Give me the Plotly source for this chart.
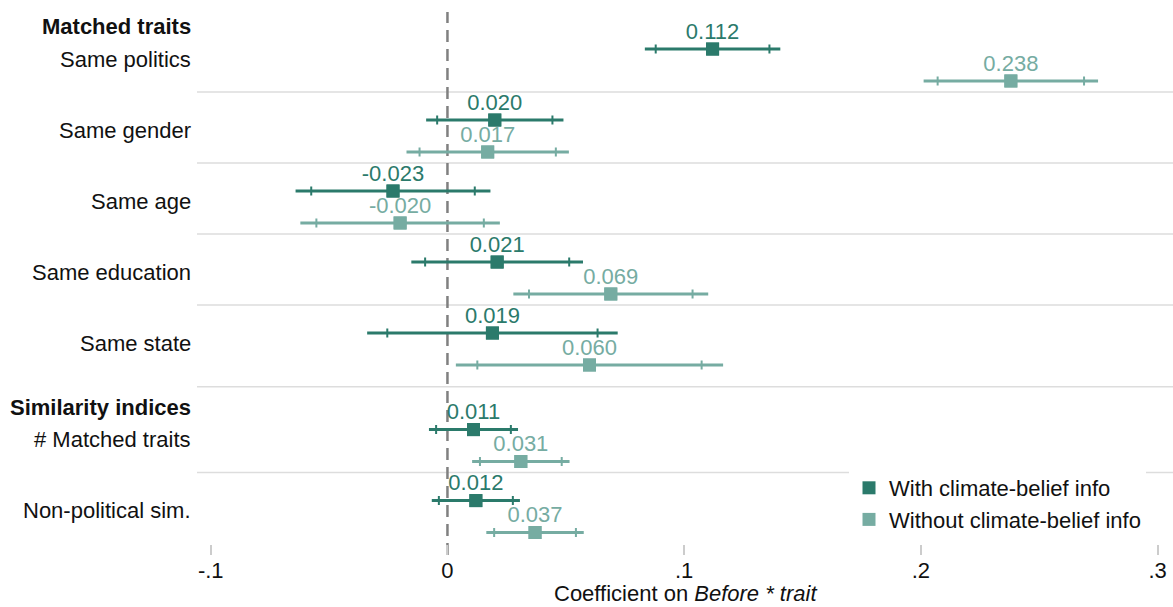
import plotly.graph_objects as go

# ---- data ----
rows = ["Same politics", "Same gender", "Same age", "Same education", "Same state",
        "# Matched traits", "Non-political sim."]
groups = ["Matched traits"] * 5 + ["Similarity indices"] * 2
with_coef = [0.112, 0.020, -0.023, 0.021, 0.019, 0.011, 0.012]
with_se = [0.0146, 0.0148, 0.0210, 0.0185, 0.0270, 0.0096, 0.0095]
without_coef = [0.238, 0.017, -0.020, 0.069, 0.060, 0.031, 0.037]
without_se = [0.0188, 0.0175, 0.0215, 0.0210, 0.0288, 0.0105, 0.0105]
tick_vals = [-0.1, 0, 0.1, 0.2, 0.3]
tick_text = ["-.1", "0", ".1", ".2", ".3"]
series_names = ["With climate-belief info", "Without climate-belief info"]

# ---- styling / layout ----
C_WITH = "#2b7a6b"
C_WITHOUT = "#76aca2"
FONT = "Liberation Sans, Arial, Helvetica, sans-serif"
FS = 22
Z95, Z90 = 1.96, 1.645
HEADER_GAP = 0.36
OFFSET = 0.225

pos = []
p = 0.0
for i, g in enumerate(groups):
    if i > 0:
        p += 1 + (HEADER_GAP if g != groups[i - 1] else 0)
    pos.append(p)

fig = go.Figure()

def add_series(coef, se, off, color, name):
    ys = [v + off for v in pos]
    # 95% CI line
    fig.add_trace(go.Scatter(
        x=coef, y=ys, mode="markers",
        marker=dict(symbol="square", size=13, color=color),
        error_x=dict(type="data", symmetric=True, array=[Z95 * s for s in se],
                     color=color, thickness=3, width=0),
        showlegend=False, hoverinfo="skip"))
    # 90% CI ticks
    fig.add_trace(go.Scatter(
        x=coef, y=ys, mode="markers",
        marker=dict(symbol="square", size=13, color=color),
        error_x=dict(type="data", symmetric=True, array=[Z90 * s for s in se],
                     color=color, thickness=2, width=4.5),
        showlegend=False, hoverinfo="skip"))
    # value labels
    fig.add_trace(go.Scatter(
        x=coef, y=[v - 0.225 for v in ys], mode="text",
        text=[f"{c:.3f}" for c in coef], textposition="middle center",
        textfont=dict(family=FONT, size=FS, color=color),
        showlegend=False, hoverinfo="skip"))
    # legend entry
    fig.add_trace(go.Scatter(
        x=[None], y=[None], mode="markers", name=name,
        marker=dict(symbol="square", size=13, color=color)))

add_series(with_coef, with_se, -OFFSET, C_WITH, series_names[0])
add_series(without_coef, without_se, OFFSET, C_WITHOUT, series_names[1])

shapes = []
# separators
for i in range(len(rows) - 1):
    if groups[i] == groups[i + 1]:
        yv = pos[i] + 0.38
    else:
        yv = pos[i + 1] - 0.83
    shapes.append(dict(type="line", xref="paper", x0=0, x1=1, yref="y", y0=yv, y1=yv,
                       line=dict(color="#dddddd", width=1.5), layer="below"))
# zero line
shapes.append(dict(type="line", xref="x", x0=0, x1=0, yref="paper", y0=0, y1=1,
                   line=dict(color="#808080", width=2.5, dash="12px,7px"), layer="below"))

annotations = []
for i, r in enumerate(rows):
    annotations.append(dict(xref="paper", x=0, xanchor="right", xshift=-4,
                            yref="y", y=pos[i] - 0.08, yanchor="middle",
                            text=r, showarrow=False,
                            font=dict(family=FONT, size=FS, color="#111111")))
for i, g in enumerate(groups):
    if i == 0 or g != groups[i - 1]:
        annotations.append(dict(xref="paper", x=0, xanchor="right", xshift=-4,
                                yref="y", y=pos[i] - 0.54, yanchor="middle",
                                text=f"<b>{g}</b>", showarrow=False,
                                font=dict(family=FONT, size=FS, color="#111111")))
annotations.append(dict(xref="paper", x=0.5, xanchor="center", yref="paper", y=-0.07,
                        yanchor="middle", text="Coefficient on <i>Before * trait</i>",
                        showarrow=False, font=dict(family=FONT, size=FS, color="#111111")))

PX_PER_ROW = 71.0
y_top = -(65 - 12) / PX_PER_ROW
y_bot = (555 - 65) / PX_PER_ROW

fig.update_layout(
    width=1173, height=607,
    margin=dict(l=197, r=0, t=12, b=52),
    paper_bgcolor="white", plot_bgcolor="white",
    font=dict(family=FONT, size=FS, color="#111111"),
    xaxis=dict(range=[-0.1058, 0.3065], tickvals=tick_vals, ticktext=tick_text,
               ticks="inside", ticklen=10, tickwidth=1.5, tickcolor="#cccccc",
               showgrid=False, zeroline=False, showline=False,
               tickfont=dict(family=FONT, size=FS, color="#111111")),
    yaxis=dict(range=[y_bot, y_top], showticklabels=False, showgrid=False,
               zeroline=False, showline=False, ticks=""),
    legend=dict(x=(849 - 197) / 976, xanchor="left", y=(555 - 467) / 543, yanchor="top",
                bgcolor="white", borderwidth=0, tracegroupgap=0,
                font=dict(family=FONT, size=FS, color="#111111")),
    shapes=shapes, annotations=annotations,
)

fig.write_html("out.html", config={"displayModeBar": False},
               post_script="document.body.style.margin='0';document.body.style.overflow='hidden';")
